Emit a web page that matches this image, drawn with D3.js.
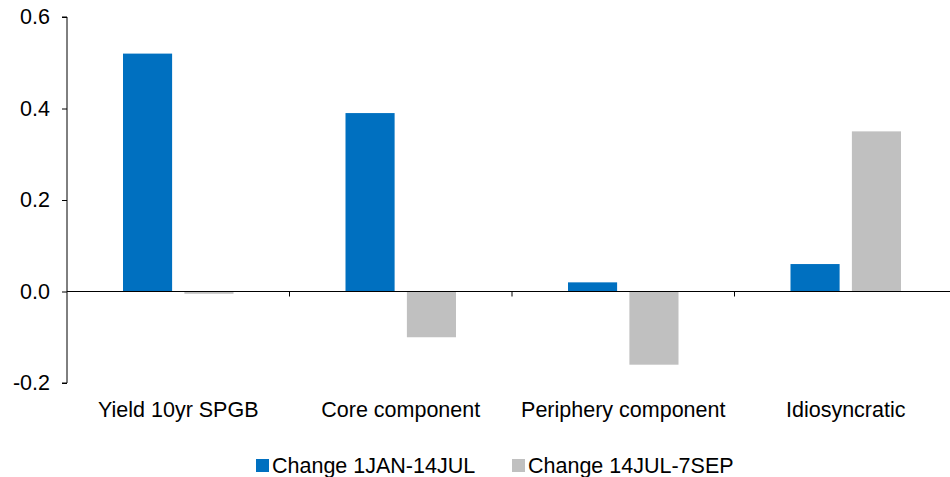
<!DOCTYPE html>
<html>
<head>
<meta charset="utf-8">
<script src="https://cdn.jsdelivr.net/npm/d3@7"></script>
<style>
  body { margin: 0; background: #fff; }
  text { font-family: "Liberation Sans", Arial, sans-serif; fill: #000; }
</style>
</head>
<body>
<div id="chart"></div>
<script>
const categories = ['Yield 10yr SPGB', 'Core component', 'Periphery component', 'Idiosyncratic'];
const seriesNames = ['Change 1JAN-14JUL', 'Change 14JUL-7SEP'];
const change1 = [0.52, 0.39, 0.02, 0.06];
const change2 = [-0.005, -0.10, -0.16, 0.35];
const yTicks = [-0.2, 0.0, 0.2, 0.4, 0.6];
const colors = ['#0070C0', '#C0C0C0'];

const totalWidth = 950;
const totalHeight = 477;
const margin = { top: 17, right: -7, bottom: 94, left: 67 };
const graphWidth = totalWidth - margin.left - margin.right;
const graphHeight = totalHeight - margin.top - margin.bottom;
const fontSize = '21.5px';

const svg = d3.select('#chart')
  .append('svg')
  .attr('width', totalWidth)
  .attr('height', totalHeight);

const graph = svg.append('g')
  .attr('transform', `translate(${margin.left}, ${margin.top})`);

// scales
const y = d3.scaleLinear()
  .domain([-0.2, 0.6])
  .range([graphHeight, 0]);

const x = d3.scaleBand()
  .domain(categories)
  .range([0, graphWidth]);

const inner = d3.scaleBand()
  .domain(seriesNames)
  .range([56, x.bandwidth() - 56])
  .paddingInner(0.2);

const rows = categories.map((c, i) => ({ cat: c, values: [change1[i], change2[i]] }));

// bars
const groups = graph.selectAll('g.cat')
  .data(rows)
  .enter()
  .append('g')
  .attr('class', 'cat')
  .attr('transform', d => `translate(${x(d.cat)}, 0)`);

groups.selectAll('rect')
  .data(d => d.values.map((v, i) => ({ name: seriesNames[i], value: v, color: colors[i] })))
  .enter()
  .append('rect')
  .attr('x', d => inner(d.name))
  .attr('width', inner.bandwidth())
  .attr('y', d => y(Math.max(0, d.value)))
  .attr('height', d => Math.max(1, Math.abs(y(d.value) - y(0))))
  .attr('fill', d => d.color);

// y axis (plain hyphen for negatives, like the original)
const yAxis = d3.axisLeft(y)
  .tickValues(yTicks)
  .tickSize(5)
  .tickPadding(12)
  .tickFormat(d => d.toFixed(1));

const yAxisGroup = graph.append('g').call(yAxis);
yAxisGroup.select('.domain').attr('d', `M-5,${y(0.6)}H0V${y(-0.2)}H-5`).attr('stroke', '#000');
yAxisGroup.selectAll('.tick line').attr('stroke', '#000');
yAxisGroup.selectAll('text')
  .style('font-family', '"Liberation Sans", Arial, sans-serif')
  .style('font-size', fontSize)
  .attr('fill', '#000');

// zero line with category ticks
const zeroAxis = d3.axisBottom(x)
  .tickValues(categories.slice(1))
  .tickSize(5)
  .tickFormat('')
  .tickSizeOuter(0)
  .offset(0);

const zeroGroup = graph.append('g')
  .attr('transform', `translate(0, ${y(0)})`)
  .call(zeroAxis);
zeroGroup.selectAll('.tick').attr('transform', d => `translate(${x(d)}, 0)`);
zeroGroup.selectAll('line, path').attr('stroke', '#000');

// category labels
graph.selectAll('text.cat-label')
  .data(categories)
  .enter()
  .append('text')
  .attr('class', 'cat-label')
  .attr('x', d => x(d) + x.bandwidth() / 2)
  .attr('y', graphHeight + 34)
  .attr('text-anchor', 'middle')
  .style('font-size', fontSize)
  .text(d => d);

// legend
const legend = svg.append('g').attr('transform', 'translate(256, 459)');
const legendX = [0, 256];
seriesNames.forEach((name, i) => {
  const item = legend.append('g').attr('transform', `translate(${legendX[i]}, 0)`);
  item.append('rect')
    .attr('width', 13)
    .attr('height', 13)
    .attr('fill', colors[i]);
  item.append('text')
    .attr('x', 16)
    .attr('y', 14)
    .style('font-size', fontSize)
    .text(name);
});
</script>
</body>
</html>
